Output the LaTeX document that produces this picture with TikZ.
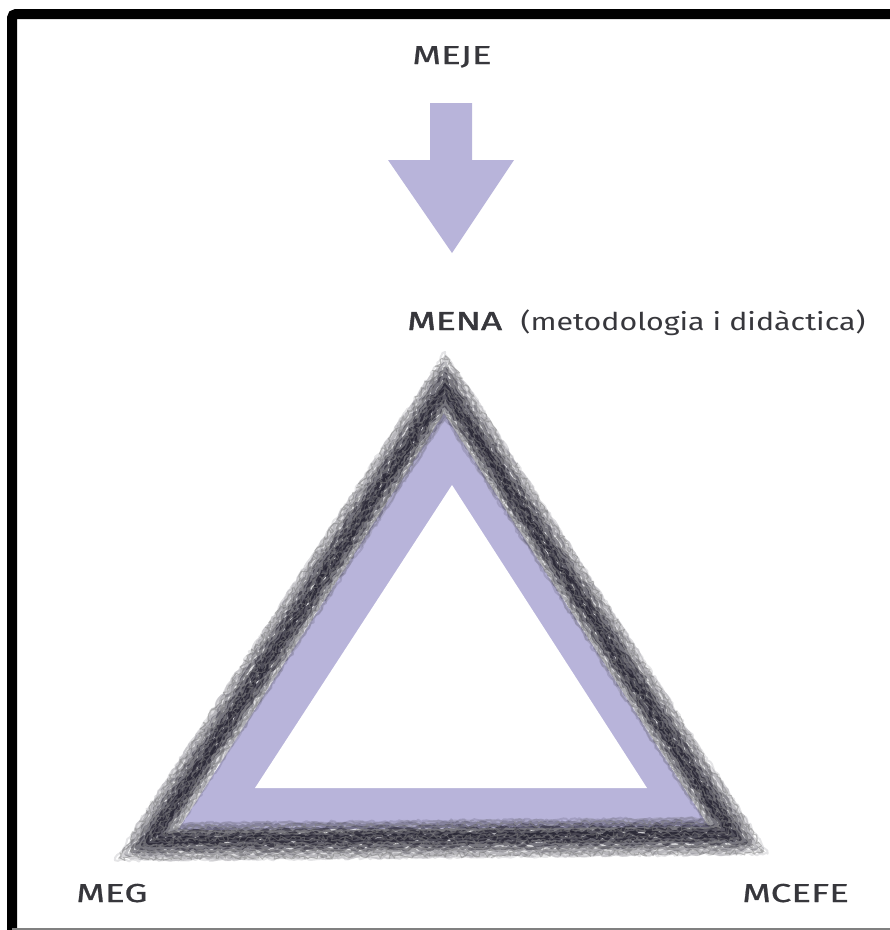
\documentclass[tikz,border=0pt]{standalone}
\usepackage{fontspec}
\setmainfont{Fira Sans}
\newfontfamily\heavyfont[FakeBold=1.4]{Fira Sans}
\newfontfamily\mediumfont[FakeBold=0.6]{Fira Sans}
\usetikzlibrary{positioning}
\usetikzlibrary{decorations.pathmorphing}

\definecolor{lavender}{RGB}{184,180,218}
\definecolor{charcoal}{RGB}{34,32,46}
\definecolor{labelgray}{RGB}{55,55,60}

\tikzset{
  corner label/.style={text=labelgray, font=\mediumfont\fontsize{26}{30}\selectfont, inner sep=0pt, xscale=1.42},
  top label/.style={corner label, font=\heavyfont\fontsize{26}{30}\selectfont},
  side note/.style={text=labelgray, font=\fontsize{24.5}{30}\selectfont, inner sep=0pt, xscale=1.24},
  sketch/.style={draw=charcoal, line join=round, line cap=round,
    decorate, decoration={random steps, segment length=3pt, amplitude=1.6pt}},
}

\begin{document}
\begin{tikzpicture}[x=1pt, y=-1pt]
            \useasboundingbox (0,0) rectangle (890,930);

            \draw[black, line width=10, rounded corners=4] (895,14) -- (12,14) -- (12,935);
            \draw[gray, line width=1.5] (12,929) -- (890,929);

            \node[corner label, anchor=base] (meje) at (452,64) {MEJE};
            \fill[lavender] (430,103) -- (472,103) -- (472,160) -- (514,160)
                -- (452,253) -- (388,160) -- (430,160) -- cycle;

            \node[top label, anchor=base west] (mena) at (407,330) {MENA};
            \node[side note, right=18pt of mena.base east, anchor=base west] (menanote) {(metodologia i didàctica)};

            \fill[lavender] (444,413) -- (178,830) -- (709,827) -- cycle;
            \fill[white] (452,485) -- (255,788) -- (647,788) -- cycle;

            \pgfmathsetseed{11}
            \draw[charcoal!60, line width=36, opacity=.25, line join=round, decorate,
              decoration={random steps, segment length=4pt, amplitude=2pt}]
              (445,385) -- (148,842) -- (735,836) -- cycle;
            \foreach \d/\w/\o in {-18/2/.15, -15/3/.25, -12/3/.4, -9/4/.55, -6/4/.7, -3/4/.8, 0/4/.75,
                                  3/4/.65, 6/4/.55, 9/3/.45, 12/3/.3, 15/3/.2, 18/2/.12}{
              \pgfmathsetmacro\f{(160+\d)/160}
              \draw[sketch, line width=\w, opacity=\o, scale around={\f:(444,679)}]
                (445,385) -- (148,842) -- (735,836) -- cycle;
            }
            \foreach \d in {-14,-8,-2,4,10,16}{
              \pgfmathsetmacro\f{(160+\d)/160}
              \draw[sketch, draw=gray, line width=1, opacity=.5, decoration={amplitude=3pt, segment length=2pt},
                scale around={\f:(444,679)}] (445,385) -- (148,842) -- (735,836) -- cycle;
            }

            \node[corner label, anchor=base west] (meg) at (76,902) {MEG};
            \node[corner label, anchor=base west] (mcefe) at (742,902) {MCEFE};
        \end{tikzpicture}
\end{document}
